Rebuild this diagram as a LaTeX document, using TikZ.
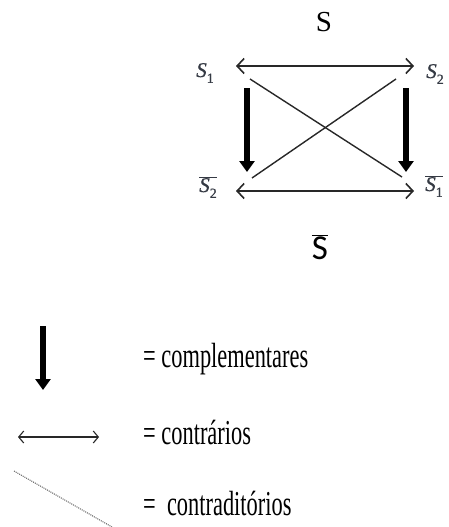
\documentclass[tikz,border=0pt]{standalone}
\usepackage{fontspec}
\setmainfont{Liberation Serif}
\newfontfamily\calib{Carlito}
\newfontfamily\labfont[FakeBold=0.8]{Liberation Serif}
\newfontfamily\legfont[FakeStretch=0.64]{Liberation Serif}
\usetikzlibrary{arrows.meta}
\definecolor{lab}{HTML}{353A44}
\definecolor{thin}{HTML}{282828}
\newcommand{\Slab}[1]{{\labfont\itshape S}\raisebox{-0.28em}{\labfont\fontsize{14}{14}\selectfont #1}}
\tikzset{
  lbl/.style={text=lab,font=\fontsize{21}{23}\selectfont,inner sep=0pt},
  thick arr/.style={line width=6pt,-{Triangle[width=15pt,length=11pt]}},
  thin arr/.style={line width=1.6pt,draw=thin,{Straight Barb[length=7pt,width=15pt,line width=1.6pt]}-{Straight Barb[length=7pt,width=15pt,line width=1.6pt]}},
  diag/.style={line width=1.4pt,draw=thin},
  leg/.style={anchor=base west,inner sep=0pt,font=\legfont\fontsize{35}{38}\selectfont}
}
\begin{document}
\begin{tikzpicture}[x=1pt,y=-1pt]
\useasboundingbox (0,0) rectangle (448,527);
% titles
\node[inner sep=0pt,font=\fontsize{29}{32}\selectfont] (S) at (324,22) {S};
\node[inner sep=0pt,font=\calib\fontsize{35}{38}\selectfont] (Sb) at (320,247) {$\overline{\hbox{\calib S}}$};
% labels
\node[lbl] (s1) at (205,73) {\Slab{1}};
\node[lbl] (s2) at (435,74) {\Slab{2}};
\node[lbl] (s2b) at (208,187) {$\overline{\hbox{\Slab{2}}}$};
\node[lbl] (s1b) at (434,186) {$\overline{\hbox{\Slab{1}}}$};
% anchor coordinates
\coordinate (tl) at (236,66);
\coordinate (tr) at (414,66);
\coordinate (bl) at (236,191);
\coordinate (br) at (414,191);
\coordinate (d1a) at (250,79);
\coordinate (d1b) at (402,177);
\coordinate (d2a) at (396,79);
\coordinate (d2b) at (252,178);
\coordinate (la) at (247,88);
\coordinate (lb) at (247,172);
\coordinate (ra) at (406,88);
\coordinate (rb) at (406,172);
\draw[thin arr] (tl) -- (tr);
\draw[thin arr] (bl) -- (br);
\draw[diag] (d1a) -- (d1b);
\draw[diag] (d2a) -- (d2b);
\draw[thick arr] (la) -- (lb);
\draw[thick arr] (ra) -- (rb);
% legend
\coordinate (k1a) at (43,326);
\coordinate (k1b) at (43,390);
\draw[thick arr] (k1a) -- (k1b);
\coordinate (k2a) at (18,437);
\coordinate (k2b) at (99,437);
\draw[line width=1.1pt,draw=thin,{Straight Barb[length=5pt,width=12pt,line width=1.1pt]}-{Straight Barb[length=5pt,width=12pt,line width=1.1pt]}] (k2a) -- (k2b);
\coordinate (k3a) at (14,471);
\coordinate (k3b) at (112,527);
\draw[line width=1pt,draw=gray!70!black,densely dotted] (k3a) -- (k3b);
\node[leg] (t1) at (143,367) {= complementares};
\node[leg] (t2) at (143,444) {= contrários};
\node[leg] (t3) at (143,515) {=\ \ contraditórios};
\end{tikzpicture}
\end{document}
